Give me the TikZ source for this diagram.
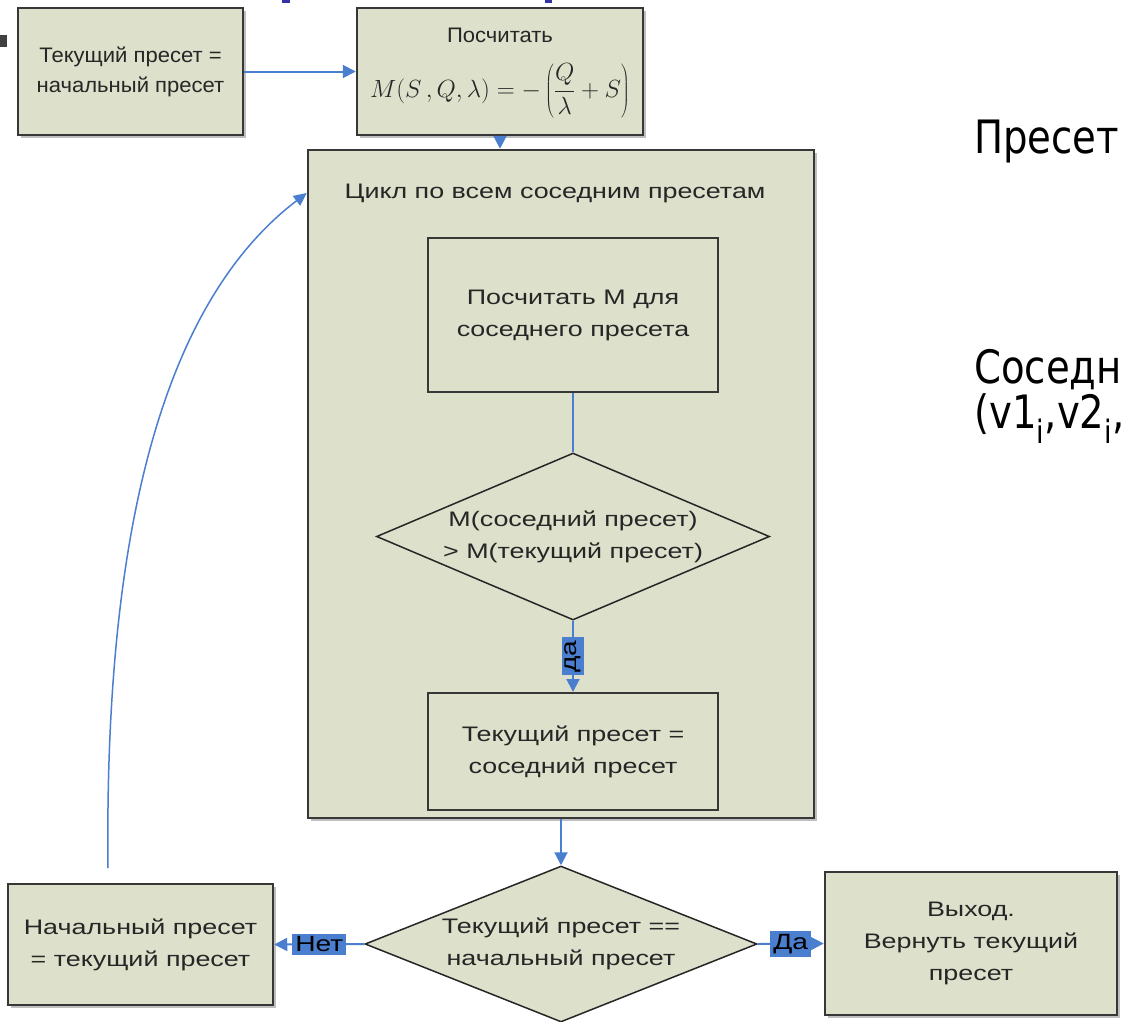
\documentclass[tikz,border=0pt]{standalone}
\usepackage{fontspec}
\setmainfont{Liberation Sans}[FakeStretch=1.28]
\newfontfamily\topfont{Liberation Sans}[FakeStretch=1.05]
\newfontfamily\rightfont{DejaVu Sans}[FakeStretch=0.84]
\usetikzlibrary{arrows.meta,shapes.geometric,shadows}
\definecolor{boxfill}{RGB}{221,224,202}
\definecolor{boxline}{RGB}{55,55,55}
\definecolor{flowblue}{RGB}{74,126,206}
\definecolor{titleblue}{RGB}{50,50,170}
\tikzset{
  base/.style={font=\fontsize{21}{32}\selectfont, text=black!85, align=center},
  box/.style={base, draw=boxline, line width=2.5pt, fill=boxfill,
    drop shadow={shadow xshift=3pt, shadow yshift=-3pt, fill=black!50, opacity=.5}},
  topbox/.style={box, font=\topfont\fontsize{21}{30}\selectfont},
  inbox/.style={base, draw=boxline, line width=2pt, fill=boxfill},
  bigbox/.style={draw=boxline, line width=2.5pt, fill=boxfill,
    drop shadow={shadow xshift=3pt, shadow yshift=-3pt, fill=black!50, opacity=.5}},
  dia/.style={shape=diamond, draw=black!85, line width=1.5pt, fill=boxfill, inner sep=0pt},
  arr/.style={draw=flowblue, line width=2pt, -{Triangle[length=13pt,width=13pt]}},
  bline/.style={draw=flowblue, line width=2pt},
  lab/.style={fill=flowblue, text=black, font=\fontsize{22}{24}\selectfont, inner sep=3pt},
  rtext/.style={anchor=base west, font=\rightfont\fontsize{46}{50}\selectfont, inner sep=0pt}
}
\begin{document}
\begin{tikzpicture}[x=1pt,y=-1pt]
\useasboundingbox (0,0) rectangle (1122,1021);
\clip (0,0) rectangle (1122,1021);
\fill[white] (0,0) rectangle (1122,1021);
% fragments at the top edge
\fill[titleblue] (282,0) rectangle (290,3);
\fill[titleblue] (545,0) rectangle (552,3);
\fill[black!75] (0,35) rectangle (7,47);

% top boxes
\node[topbox, minimum width=225, minimum height=127] (init) at (130.5,71.5) {Текущий пресет =\\начальный пресет};
\node[box, minimum width=286, minimum height=127] (calc) at (500,71.5) {};
\node[base, font=\topfont\fontsize{21}{30}\selectfont] (calct) at (500,35) {Посчитать};
\node[text=black!85] (formula) at (500,91) {\fontsize{25}{28}\selectfont$\displaystyle M(S\,,Q,\lambda)=-\left(\frac{Q}{\lambda}+S\right)$};
\draw[arr] (init.east) -- (calc.west);

% loop box
\node[bigbox, minimum width=506, minimum height=668] (loop) at (561,484) {};
\draw[arr] (calc.south) -- (calc.south |- loop.north);
\node[base] (looptitle) at (555,193) {Цикл по всем соседним пресетам};
\node[inbox, minimum width=290, minimum height=154] (calcM) at (573,315) {Посчитать М для\\соседнего пресета};
\node[dia, aspect=2.35, minimum width=393, minimum height=167] (cmp) at (573,536.5) {};
\node[base] (cmpt) at (cmp.center) {M(соседний пресет)\\> M(текущий пресет)};
\node[inbox, minimum width=290, minimum height=117] (assign) at (573,751.5) {Текущий пресет =\\соседний пресет};
\draw[bline] (calcM.south) -- (cmp.north);
\draw[arr] (cmp.south) -- node[lab, rotate=90, pos=0.5] {да} (assign.north);

% bottom row
\node[dia, aspect=2.51, minimum width=392, minimum height=156] (test) at (561,944) {};
\node[base] (testt) at (test.center) {Текущий пресет ==\\начальный пресет};
\draw[arr] (loop.south) -- (test.north);
\node[box, minimum width=265, minimum height=121] (restart) at (140.5,944.5) {Начальный пресет\\= текущий пресет};
\node[box, minimum width=292, minimum height=143] (exit) at (971,943.5) {Выход.\\Вернуть текущий\\пресет};
\draw[arr] (test.west) -- node[lab] {Нет} (restart.east);
\draw[arr] (test.east) -- node[lab] {Да} (exit.west);

% loop-back curve
\coordinate (cs) at (108,868);
\coordinate (ce) at (loop.west |- looptitle);
\draw[draw=flowblue, line width=1.5pt, -{Triangle[length=13pt,width=12pt]}] (cs) .. controls (105,600) and (140,320) .. (ce);

% right-hand text
\node[rtext] (preset) at (974,153) {Пресет};
\node[rtext] (neigh) at (974,383) {Соседние};
\node[rtext] (vec) at (974,428) {(v1\textsubscript{i},v2\textsubscript{i},v3\textsubscript{i})};
\end{tikzpicture}
\end{document}
